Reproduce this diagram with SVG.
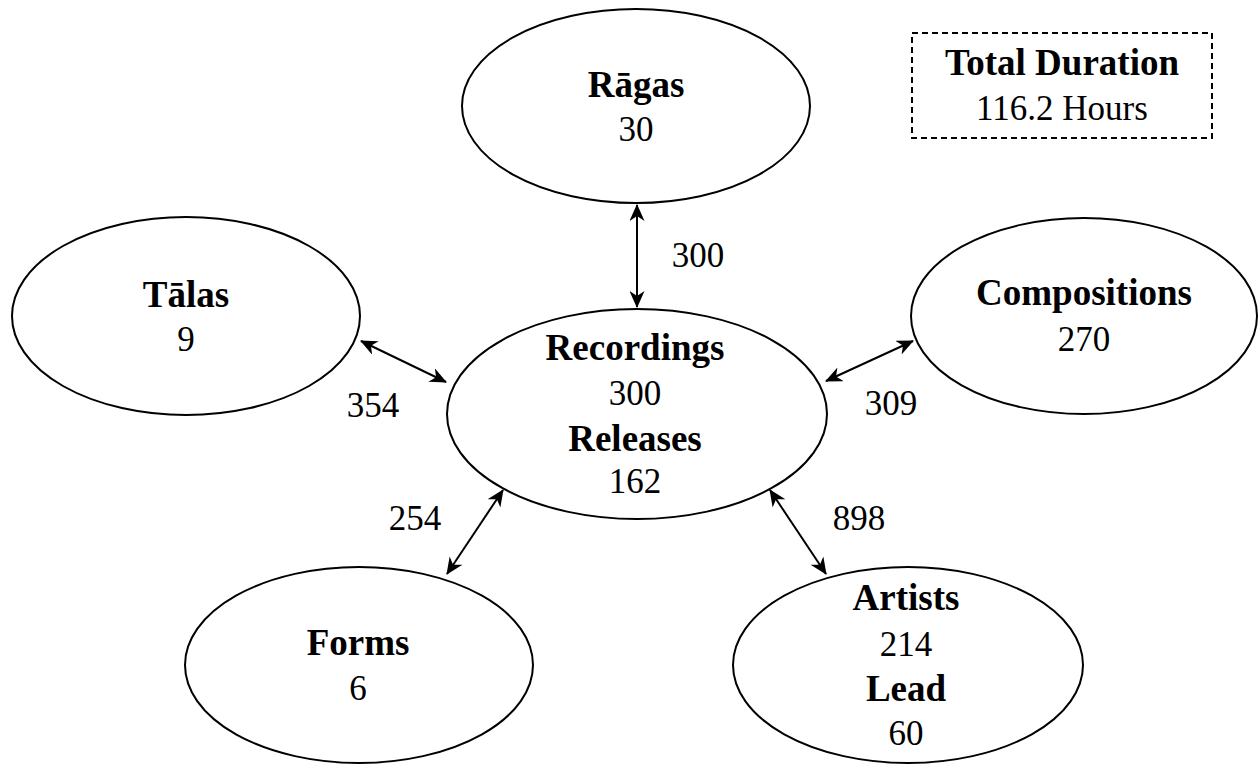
<svg xmlns="http://www.w3.org/2000/svg" width="1260" height="766" viewBox="0 0 1260 766">
<style>
.n ellipse{fill:#fff;stroke:#000;stroke-width:2}
text{font-family:"Liberation Serif","Times New Roman",serif;font-size:35px;fill:#000;text-anchor:middle}
.b{font-weight:bold;font-size:37px}
.c line{stroke:#000;stroke-width:2;marker-start:url(#a);marker-end:url(#a)}
</style>
<defs>
<marker id="a" markerUnits="userSpaceOnUse" viewBox="0 0 17 15" markerWidth="17" markerHeight="15" refX="16" refY="7.5" orient="auto-start-reverse">
<path d="M0,0 L17,7.5 L0,15 L5,7.5 Z" fill="#000"/>
</marker>
</defs>
<rect width="1260" height="766" fill="#fff"/>
<g class="c" id="connectors">
<line x1="637" y1="205" x2="637" y2="307"/>
<line x1="361" y1="341" x2="446" y2="382"/>
<line x1="913" y1="341" x2="826" y2="381"/>
<line x1="447" y1="574" x2="503" y2="490"/>
<line x1="770" y1="490" x2="826" y2="574"/>
</g>
<g id="edge-labels">
<text x="698" y="267">300</text>
<text x="373" y="417">354</text>
<text x="891" y="415">309</text>
<text x="415" y="530">254</text>
<text x="859" y="530">898</text>
</g>
<g class="n" id="ragas">
<ellipse cx="636" cy="106" rx="174" ry="97"/>
<text class="b" x="636" y="97">Rāgas</text>
<text x="636" y="141">30</text>
</g>
<g class="n" id="talas">
<ellipse cx="186" cy="316" rx="174" ry="99"/>
<text class="b" x="186" y="307">Tālas</text>
<text x="186" y="351">9</text>
</g>
<g class="n" id="compositions">
<ellipse cx="1084" cy="316" rx="173" ry="98"/>
<text class="b" x="1084" y="305">Compositions</text>
<text x="1084" y="351">270</text>
</g>
<g class="n" id="recordings">
<ellipse cx="637" cy="414" rx="190" ry="105"/>
<text class="b" x="635" y="360">Recordings</text>
<text x="635" y="405">300</text>
<text class="b" x="635" y="451">Releases</text>
<text x="635" y="493">162</text>
</g>
<g class="n" id="forms">
<ellipse cx="359" cy="665" rx="174" ry="98"/>
<text class="b" x="358" y="655">Forms</text>
<text x="358" y="700">6</text>
</g>
<g class="n" id="artists">
<ellipse cx="908" cy="665" rx="175" ry="98"/>
<text class="b" x="906" y="610">Artists</text>
<text x="906" y="656">214</text>
<text class="b" x="906" y="701">Lead</text>
<text x="906" y="745">60</text>
</g>
<g id="total-duration">
<rect x="912" y="33" width="300" height="105" fill="none" stroke="#000" stroke-width="2" stroke-dasharray="6,4"/>
<text class="b" x="1062" y="75">Total Duration</text>
<text x="1062" y="120">116.2 Hours</text>
</g>
</svg>
